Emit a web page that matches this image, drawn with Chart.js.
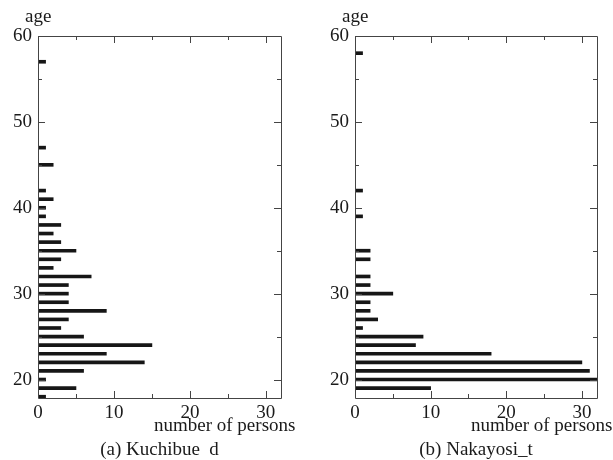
<!DOCTYPE html>
<html>
<head>
<meta charset="utf-8">
<script src="https://cdn.jsdelivr.net/npm/chart.js@4/dist/chart.umd.min.js"></script>
<style>
  html, body { margin: 0; padding: 0; background: #fff; }
  #wrap { position: relative; width: 613px; height: 460px; overflow: hidden; font-family: "Liberation Serif", "DejaVu Serif", serif; color: #1a1a1a; }
  canvas { position: absolute; top: 0; }
  .t { position: absolute; font-size: 19px; line-height: 19px; white-space: pre; }
</style>
</head>
<body>
<div id="wrap">
  <canvas id="cA" width="306" height="460" style="left:0;width:306px;height:460px"></canvas>
  <canvas id="cB" width="296" height="460" style="left:317px;width:296px;height:460px"></canvas>
  <div class="t" style="left:25px;top:6px">age</div>
  <div class="t" style="left:342px;top:6px">age</div>
  <div class="t" style="left:154px;top:415px">number of persons</div>
  <div class="t" style="left:471px;top:415px">number of persons</div>
  <div class="t" style="left:0;width:319px;text-align:center;top:439px">(a) Kuchibue  d</div>
  <div class="t" style="left:355px;width:242px;text-align:center;top:439px">(b) Nakayosi_t</div>
</div>
<script>
// ---- data ----
const ages = [18,19,20,21,22,23,24,25,26,27,28,29,30,31,32,33,34,35,36,37,38,39,40,41,42,43,44,45,46,47,48,49,50,51,52,53,54,55,56,57,58];
const kuchibue = [1,5,1,6,14,9,15,6,3,4,9,4,4,4,7,2,3,5,3,2,3,1,1,2,1,0,0,2,0,1,0,0,0,0,0,0,0,0,0,1,0];
const nakayosi = [0,10,34,31,30,18,8,9,1,3,2,2,5,2,2,0,2,2,0,0,0,1,0,0,1,0,0,0,0,0,0,0,0,0,0,0,0,0,0,0,1];
const xTickLabels = [0,10,20,30];
const xMinorTicks = [5,15,25];
const yTickLabels = [20,30,40,50,60];
const yMinorTicks = [25,35,45,55];

const boxPlugin = {
  id: 'boxTicks',
  afterDatasetsDraw(chart) {
    const ctx = chart.ctx, a = chart.chartArea;
    const xs = chart.scales.x, ys = chart.scales.y;
    ctx.save();
    ctx.strokeStyle = '#444';
    ctx.lineWidth = 1;
    ctx.beginPath();
    ctx.rect(Math.round(a.left) + 0.5, Math.round(a.top) + 0.5, Math.round(a.right - a.left), Math.round(a.bottom - a.top));
    ctx.stroke();
    const tick = (vals, len) => {
      vals.forEach(v => {
        const px = Math.round(xs.getPixelForValue(v)) + 0.5;
        ctx.moveTo(px, a.bottom); ctx.lineTo(px, a.bottom - len);
        ctx.moveTo(px, a.top); ctx.lineTo(px, a.top + len);
      });
    };
    const ytick = (vals, len) => {
      vals.forEach(v => {
        const py = Math.round(ys.getPixelForValue(v)) + 0.5;
        ctx.moveTo(a.left, py); ctx.lineTo(a.left + len, py);
        ctx.moveTo(a.right, py); ctx.lineTo(a.right - len, py);
      });
    };
    ctx.beginPath();
    tick(xTickLabels, 7); tick(xMinorTicks, 4);
    ytick(yTickLabels, 7); ytick(yMinorTicks, 4);
    ctx.stroke();
    ctx.restore();
  }
};

function makeChart(id, counts, padRight) {
  const font = { family: '"Liberation Serif", serif', size: 19 };
  return new Chart(document.getElementById(id), {
    type: 'bar',
    data: {
      datasets: [{
        data: ages.map((a, i) => ({ x: counts[i], y: a })),
        backgroundColor: '#161616',
        borderWidth: 0,
        barThickness: 3
      }]
    },
    options: {
      indexAxis: 'y',
      responsive: false,
      animation: false,
      devicePixelRatio: 1,
      layout: { padding: { top: 36, right: padRight, bottom: 42, left: 0 } },
      plugins: { legend: { display: false }, tooltip: { enabled: false } },
      scales: {
        x: {
          type: 'linear', min: 0, max: 32,
          grid: { display: false, drawTicks: false },
          border: { display: false },
          afterBuildTicks: s => { s.ticks = xTickLabels.map(v => ({ value: v })); },
          afterFit: s => { s.height = 20; },
          ticks: { font, color: '#1a1a1a', padding: 4, maxRotation: 0, autoSkip: false }
        },
        y: {
          type: 'linear', min: 17.85, max: 60, offset: false,
          grid: { display: false, drawTicks: false, offset: false },
          border: { display: false },
          afterBuildTicks: s => { s.ticks = yTickLabels.map(v => ({ value: v })); },
          afterFit: s => { s.width = 38; },
          ticks: { font, color: '#1a1a1a', padding: 6, autoSkip: false }
        }
      }
    },
    plugins: [boxPlugin]
  });
}
makeChart('cA', kuchibue, 25);
makeChart('cB', nakayosi, 16);
</script>
</body>
</html>
